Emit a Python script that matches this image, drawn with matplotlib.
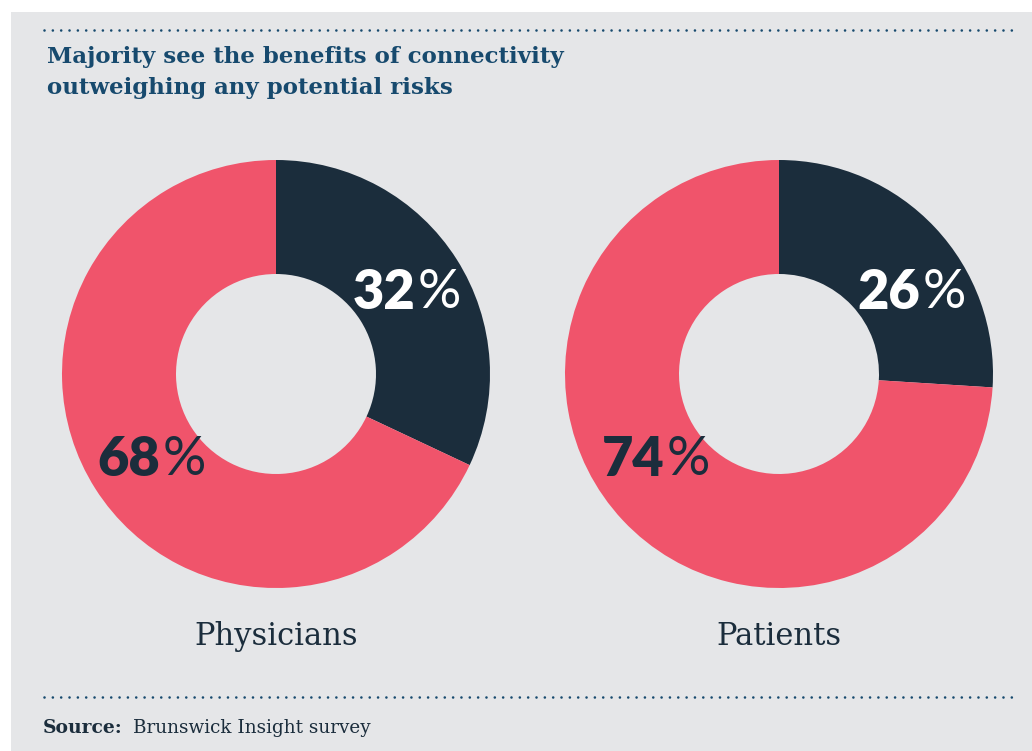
import matplotlib
matplotlib.use("Agg")
import matplotlib.pyplot as plt
from matplotlib.lines import Line2D
from matplotlib.patches import Rectangle

W, H = 1032, 751

groups = ["Physicians", "Patients"]
risks = [32, 26]      # dark segment
benefits = [68, 74]   # pink segment

BG = "#e5e6e8"
DARK = "#1b2d3c"
PINK = "#f0546b"
BLUE = "#174a6e"


def fx(x):
    return x / W


def fy(y):
    return 1 - y / H


fig = plt.figure(figsize=(W / 100, H / 100), dpi=100, facecolor="white")
fig.add_artist(Rectangle((fx(11), 0), 1 - fx(11), fy(12), transform=fig.transFigure,
                         facecolor=BG, edgecolor="none", zorder=0))

for y in (30, 697):
    fig.add_artist(Line2D([fx(44), fx(1013)], [fy(y), fy(y)], transform=fig.transFigure,
                          color=BLUE, lw=1.9, linestyle=(0, (0.01, 3.15)),
                          dash_capstyle="round"))

fig.text(fx(47), fy(46), "Majority see the benefits of connectivity\noutweighing any potential risks",
         family="DejaVu Serif", weight="bold", fontsize=16.5, color=BLUE,
         va="top", ha="left", linespacing=1.55)

fig.text(fx(43), fy(733), "Source:", family="DejaVu Serif", weight="bold",
         fontsize=13.5, color=DARK, va="baseline")
fig.text(fx(133), fy(733), "Brunswick Insight survey", family="DejaVu Serif",
         fontsize=13.2, color=DARK, va="baseline")

centers = [276, 779]
cy, R, r_in = 374, 214, 100
# label anchors (data coords, where number meets the % sign)
risk_pos = [(0.65, 0.38), (0.66, 0.38)]
ben_pos = [(-0.54, -0.40), (-0.535, -0.40)]

for i, name in enumerate(groups):
    cx = centers[i]
    ax = fig.add_axes([fx(cx - R), fy(cy + R), 2 * R / W, 2 * R / H])
    ax.set_facecolor("none")
    ax.pie([risks[i], benefits[i]], colors=[DARK, PINK], startangle=90,
           counterclock=False, radius=1,
           wedgeprops=dict(width=1 - r_in / R, edgecolor="none"))
    ax.set_xlim(-1, 1)
    ax.set_ylim(-1, 1)
    ax.set_aspect("equal")
    ax.axis("off")

    for val, pos, col in ((risks[i], risk_pos[i], "white"), (benefits[i], ben_pos[i], DARK)):
        ax.text(pos[0], pos[1], f"{val}", family="Lato", weight="heavy", fontsize=39,
                color=col, ha="right", va="center")
        ax.text(pos[0] + 0.01, pos[1], "%", family="Lato", weight="normal", fontsize=39,
                color=col, ha="left", va="center")

    fig.text(fx(cx), fy(645), name, family="DejaVu Serif", fontsize=22, color=DARK,
             ha="center", va="baseline")

fig.savefig("out.png", dpi=100, facecolor="white")
